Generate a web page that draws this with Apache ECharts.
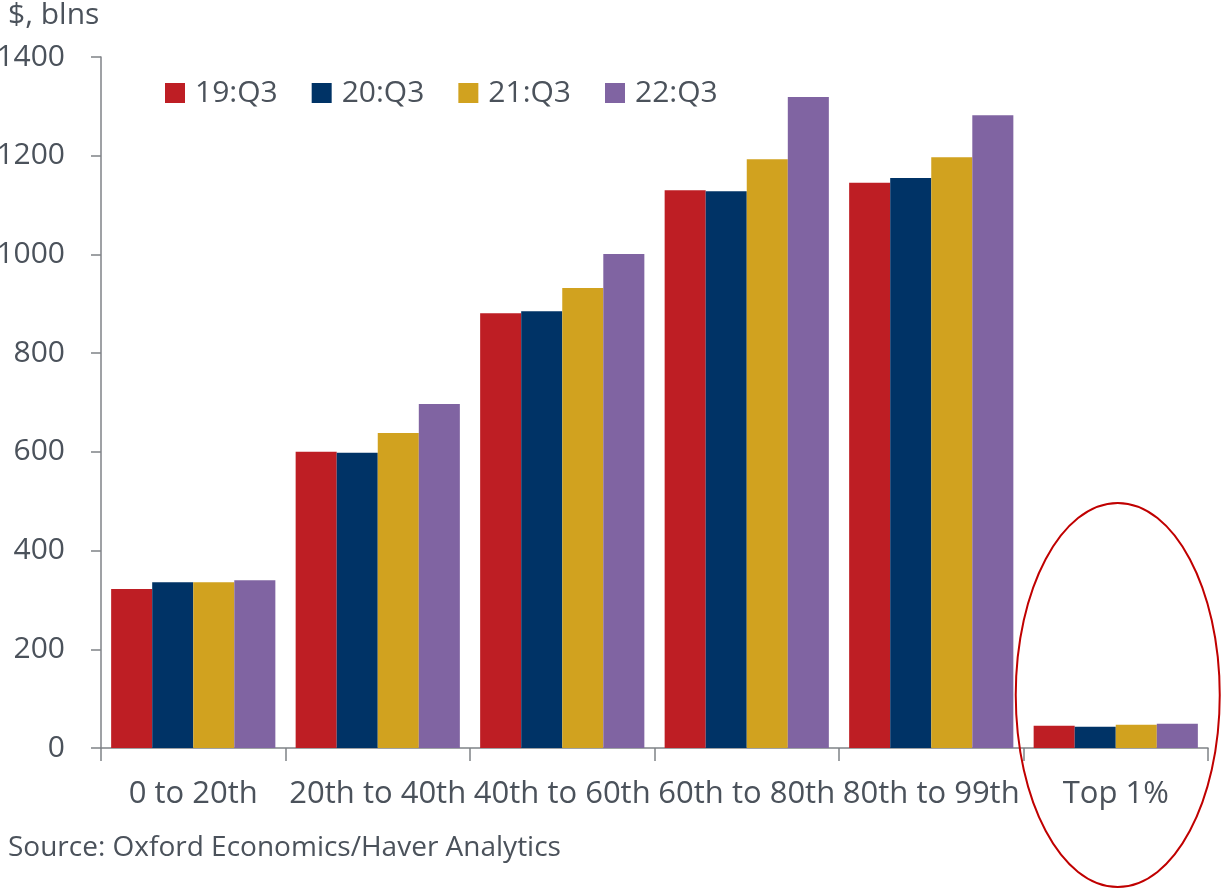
<!DOCTYPE html>
<html><head><meta charset="utf-8">
<script src="https://cdn.jsdelivr.net/npm/echarts@6/dist/echarts.min.js"></script>
<style>html,body{margin:0;padding:0;background:#fff}#c{width:1222px;height:890px}</style>
</head><body><div id="c"></div>
<script>
var categories = ['0 to 20th','20th to 40th','40th to 60th','60th to 80th','80th to 99th','Top 1%'];
var seriesNames = ['19:Q3','20:Q3','21:Q3','22:Q3'];
var s19 = [322, 600, 881, 1130, 1145, 45];
var s20 = [336, 598, 885, 1128, 1155, 43];
var s21 = [336, 638, 932, 1193, 1197, 47];
var s22 = [340, 697, 1001, 1319, 1282, 49];
var colors = ['#BE1E24','#003366','#D1A21F','#8064A2'];
var yTicks = [0,200,400,600,800,1000,1200,1400];
var unitLabel = '$, blns';
var sourceText = 'Source: Oxford Economics/Haver Analytics';

var font = '"Open Sans", "Noto Sans", sans-serif';
var txt = '#4B525B';
var chart = echarts.init(document.getElementById('c'));
var data = [s19, s20, s21, s22];
chart.setOption({
  animation: false,
  textStyle: {fontFamily: font},
  grid: {left: 101, right: 14, top: 57, bottom: 142, containLabel: false, outerBoundsMode: 'none'},
  legend: {
    left: 160, top: 73, itemWidth: 20, itemHeight: 20, itemGap: 34,
    icon: 'rect',
    textStyle: {fontSize: 30, color: txt, fontFamily: font, padding: [0,0,0,5]},
    data: seriesNames
  },
  xAxis: {
    type: 'category', data: categories,
    axisLine: {lineStyle: {color: '#7F8287', width: 1.5}},
    axisTick: {show: true, length: 13, lineStyle: {color: '#7F8287', width: 1.5}},
    axisLabel: {fontSize: 31, color: txt, margin: 31, interval: 0, fontFamily: font},
    splitLine: {show: false}
  },
  yAxis: {
    type: 'value', min: yTicks[0], max: yTicks[yTicks.length-1], interval: 200,
    axisLine: {show: true, lineStyle: {color: '#7F8287', width: 1.5}},
    axisTick: {show: true, inside: false, length: 10, lineStyle: {color: '#7F8287', width: 1.5}},
    axisLabel: {fontSize: 30, color: txt, margin: 36, fontFamily: font, formatter: function(v){return String(v);}},
    splitLine: {show: false}
  },
  series: seriesNames.map(function(n, i){
    return {
      name: n, type: 'bar', data: data[i], barGap: '0%', barCategoryGap: '11%',
      itemStyle: {color: colors[i]}
    };
  })
});
// annotation ellipse around the last category
var c = chart.convertToPixel({xAxisIndex: 0, yAxisIndex: 0}, [categories.length - 1, 0]);
chart.setOption({
  graphic: [
    {type: 'text', left: 8, top: 0, style: {text: unitLabel, fontSize: 30, fill: txt, fontFamily: font}},
    {type: 'text', left: 8, top: 834, style: {text: sourceText, fontSize: 28, fill: txt, fontFamily: font}},
    {type: 'ellipse', shape: {cx: c[0] + 2, cy: c[1] - 53, rx: 102, ry: 192},
     style: {fill: 'none', stroke: '#C00000', lineWidth: 2}, z: 100}
  ]
});
</script></body></html>
